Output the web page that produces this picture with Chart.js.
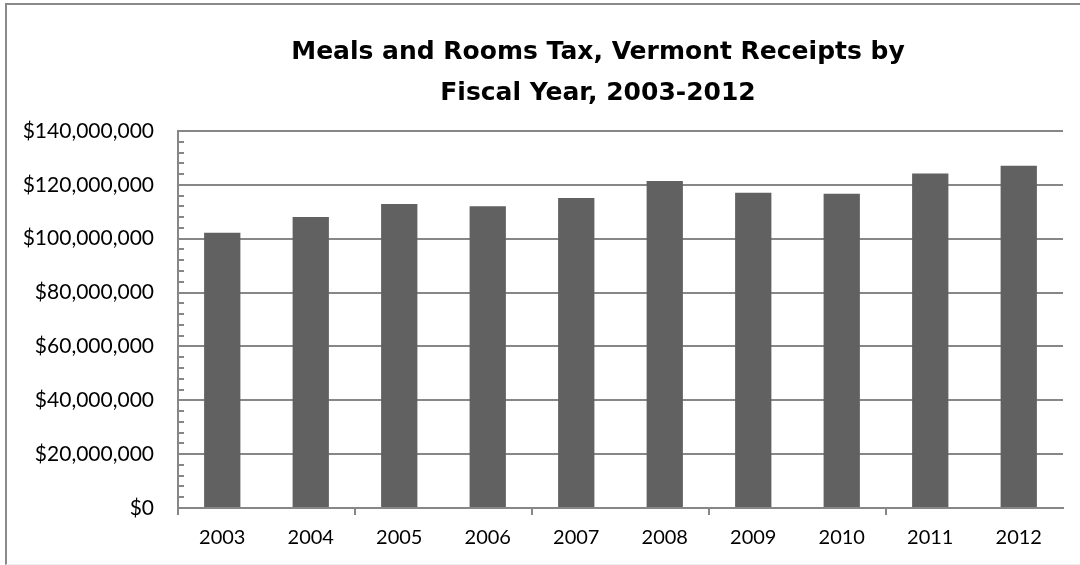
<!DOCTYPE html>
<html>
<head>
<meta charset="utf-8">
<script src="https://cdn.jsdelivr.net/npm/chart.js@4.4.0/dist/chart.umd.min.js"></script>
<style>
  html, body { margin: 0; padding: 0; background: #fff; }
  #wrap { position: relative; width: 1080px; height: 565px; overflow: hidden; }
  #frame {
    position: absolute; left: 5px; top: 3px; width: 1100px; height: 559px;
    border-left: 2px solid #8a8a8a; border-top: 2px solid #8a8a8a;
    border-bottom: 1px solid #eeeeee;
  }
  #taxChart { position: absolute; left: 0; top: 0; }
</style>
</head>
<body>
<div id="wrap">
  <div id="frame"></div>
  <canvas id="taxChart" width="1080" height="565"></canvas>
</div>
<script>
// Meals and Rooms tax receipts by fiscal year
const years = ['2003', '2004', '2005', '2006', '2007', '2008', '2009', '2010', '2011', '2012'];
const receipts = [102200000, 108100000, 112900000, 112100000, 115100000,
                  121400000, 117100000, 116700000, 124200000, 127100000];
const titleLines = ['Meals and Rooms Tax, Vermont Receipts by', 'Fiscal Year, 2003-2012'];
const yMax = 140000000;
const yStep = 20000000;
const yMinorStep = 4000000;

const axisGray = '#878787';
const tickFont = { family: 'Lato', size: 20 };
const yTickFont = { family: 'Lato', size: 21 };

// small inward tick marks on the value axis between the gridlines
const minorTicks = {
    id: 'minorTicks',
    afterDatasetsDraw(chart) {
        const y = chart.scales.y;
        const ctx = chart.ctx;
        ctx.save();
        ctx.strokeStyle = axisGray;
        ctx.lineWidth = 2;
        for (let v = 0; v <= yMax; v += yMinorStep) {
            if (v % yStep === 0) continue;
            const py = Math.round(y.getPixelForValue(v));
            ctx.beginPath();
            ctx.moveTo(y.right, py);
            ctx.lineTo(y.right + 6, py);
            ctx.stroke();
        }
        ctx.restore();
    }
};

// title sits a bit left of the plot centre, so widen its box to the left
const titleShift = {
    id: 'titleShift',
    afterLayout(chart) {
        const t = chart.titleBlock;
        if (t) {
            t.left = 116;
            t.right = chart.width;
        }
    }
};

const ctx = document.getElementById('taxChart').getContext('2d');
new Chart(ctx, {
    type: 'bar',
    data: {
        labels: years,
        datasets: [{
            label: 'Receipts',
            data: receipts,
            backgroundColor: '#616161',
            borderWidth: 0,
            categoryPercentage: 1,
            barPercentage: 0.41
        }]
    },
    options: {
        responsive: false,
        animation: false,
        layout: { padding: { left: 10, right: 17, top: 18, bottom: 0 } },
        plugins: {
            legend: { display: false },
            tooltip: { enabled: false },
            title: {
                display: true,
                text: titleLines,
                color: '#000',
                font: { family: 'DejaVu Sans', size: 25, weight: 'bold', lineHeight: 1.64 },
                padding: { top: 13.5, bottom: 17.5 }
            }
        },
        scales: {
            x: {
                offset: true,
                grid: {
                    offset: true,
                    drawOnChartArea: false,
                    drawTicks: true,
                    tickLength: 7,
                    lineWidth: 2,
                    color: c => (c.index % 2 === 0 ? axisGray : 'rgba(0,0,0,0)')
                },
                border: { color: axisGray, width: 2 },
                ticks: { color: '#000', font: tickFont, padding: 11, maxRotation: 0 },
                afterFit: s => { s.height = 57; }
            },
            y: {
                min: 0,
                max: yMax,
                grid: { color: axisGray, lineWidth: 2, drawTicks: false },
                border: { color: axisGray, width: 2 },
                ticks: {
                    stepSize: yStep,
                    color: '#000',
                    font: yTickFont,
                    padding: 24,
                    callback: v => '$' + v.toLocaleString('en-US')
                },
                afterFit: s => { s.width = 168; }
            }
        }
    },
    plugins: [minorTicks, titleShift]
});
</script>
</body>
</html>
